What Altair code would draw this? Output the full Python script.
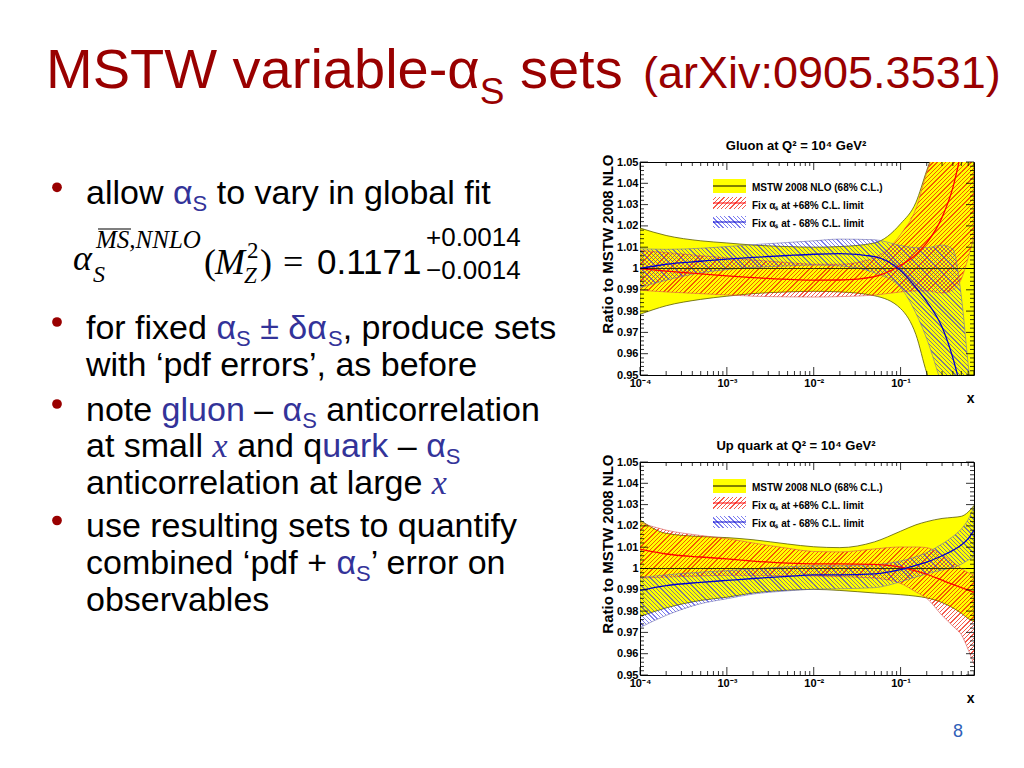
import math
import pandas as pd
import altair as alt

# ---------------------------------------------------------------- slide text
TITLE_RUNS = [("MSTW variable-", "T"), ("α", "T"), ("S", "Ts"), (" sets", "T")]
TITLE_REF = "(arXiv:0905.3531)"
BULLET_LINES = [
    [("allow ", "k"), ("α", "b"), ("S", "s"), (" to vary in global fit", "k")],
    [("for fixed ", "k"), ("α", "b"), ("S", "s"), (" ± δα", "b"), ("S", "s"), (", produce sets", "k")],
    [("with ‘pdf errors’, as before", "k")],
    [("note ", "k"), ("gluon", "b"), (" – ", "k"), ("α", "b"), ("S", "s"), (" anticorrelation", "k")],
    [("at small ", "k"), ("x", "x"), (" and q", "k"), ("uark", "b"), (" – ", "k"), ("α", "b"), ("S", "s")],
    [("anticorrelation at large ", "k"), ("x", "x")],
    [("use resulting sets to quantify", "k")],
    [("combined ‘pdf + ", "k"), ("α", "b"), ("S", "s"), ("’ error on", "k")],
    [("observables", "k")],
]
PAGE_NUMBER = "8"
LEGEND_TEXT = ["MSTW 2008 NLO (68% C.L.)", "Fix αₛ at +68% C.L. limit", "Fix αₛ at - 68% C.L. limit"]
GLUON_TITLE = "Gluon at Q² = 10⁴ GeV²"
QUARK_TITLE = "Up quark at Q² = 10⁴ GeV²"
Y_TITLE = "Ratio to MSTW 2008 NLO"

# ---------------------------------------------------------------- chart data
X = [1e-4, 2e-4, 5e-4, 1e-3, 2e-3, 5e-3, 1e-2, 2e-2, 5e-2, 0.1, 0.15, 0.2, 0.3, 0.4, 0.5, 0.6, 0.7]
CENTRAL = [1.0, 1.0, 1.0, 1.0, 1.0, 1.0, 1.0, 1.0, 1.0, 1.0, 1.0, 1.0, 1.0, 1.0, 1.0, 1.0, 1.0]

# gluon
G_YEL_UP = [1.0190, 1.0155, 1.0130, 1.0120, 1.0110, 1.0103, 1.0100, 1.0103, 1.0120, 1.0210, 1.0310, 1.0460, 1.0650, 1.0700, 1.0700, 1.0700, 1.0700]
G_YEL_LO = [0.9785, 0.9825, 0.9855, 0.9870, 0.9882, 0.9890, 0.9893, 0.9890, 0.9872, 0.9812, 0.9690, 0.9510, 0.9350, 0.9300, 0.9300, 0.9300, 0.9300]
G_RED_C = [1.0000, 0.9988, 0.9975, 0.9965, 0.9957, 0.9949, 0.9945, 0.9946, 0.9962, 1.0015, 1.0065, 1.0120, 1.0240, 1.0380, 1.0550, 1.0700, 1.0800]
G_RED_UP = [1.0085, 1.0075, 1.0060, 1.0050, 1.0040, 1.0028, 1.0020, 1.0020, 1.0050, 1.0160, 1.0280, 1.0450, 1.0650, 1.0800, 1.0900, 1.0950, 1.1000]
G_RED_LO = [0.9898, 0.9890, 0.9882, 0.9876, 0.9870, 0.9867, 0.9866, 0.9868, 0.9875, 0.9890, 0.9895, 0.9895, 0.9885, 0.9900, 0.9950, 1.0050, 1.0150]
G_BLUE_C = [1.0000, 1.0020, 1.0034, 1.0044, 1.0052, 1.0061, 1.0067, 1.0070, 1.0056, 0.9990, 0.9910, 0.9845, 0.9725, 0.9580, 0.9430, 0.9300, 0.9200]
G_BLUE_UP = [1.0093, 1.0090, 1.0095, 1.0103, 1.0112, 1.0122, 1.0130, 1.0138, 1.0135, 1.0108, 1.0098, 1.0098, 1.0110, 1.0090, 0.9870, 0.9550, 0.9300]
G_BLUE_LO = [0.9910, 0.9945, 0.9980, 0.9995, 1.0005, 1.0012, 1.0016, 1.0012, 0.9980, 0.9910, 0.9790, 0.9670, 0.9450, 0.9300, 0.9300, 0.9300, 0.9300]

# up quark
Q_YEL_UP = [1.0228, 1.0165, 1.0150, 1.0145, 1.0135, 1.0115, 1.0102, 1.0098, 1.0125, 1.0175, 1.0205, 1.0220, 1.0235, 1.0240, 1.0245, 1.0265, 1.0296]
Q_YEL_LO = [0.9775, 0.9815, 0.9850, 0.9865, 0.9885, 0.9898, 0.9902, 0.9897, 0.9885, 0.9877, 0.9870, 0.9862, 0.9840, 0.9815, 0.9790, 0.9765, 0.9750]
Q_RED_C = [1.0091, 1.0068, 1.0054, 1.0045, 1.0035, 1.0025, 1.0022, 1.0022, 1.0019, 1.0006, 0.9988, 0.9973, 0.9945, 0.9925, 0.9910, 0.9898, 0.9888]
Q_RED_UP = [1.0215, 1.0180, 1.0155, 1.0140, 1.0120, 1.0095, 1.0080, 1.0078, 1.0092, 1.0101, 1.0101, 1.0098, 1.0065, 1.0030, 1.0000, 0.9980, 0.9970]
Q_RED_LO = [0.9955, 0.9960, 0.9965, 0.9968, 0.9968, 0.9966, 0.9965, 0.9962, 0.9955, 0.9930, 0.9890, 0.9860, 0.9780, 0.9730, 0.9690, 0.9620, 0.9550]
Q_BLUE_C = [0.9897, 0.9920, 0.9935, 0.9944, 0.9953, 0.9963, 0.9970, 0.9970, 0.9975, 0.9995, 1.0015, 1.0030, 1.0060, 1.0085, 1.0110, 1.0140, 1.0180]
Q_BLUE_UP = [0.9958, 0.9970, 0.9983, 0.9990, 0.9998, 1.0008, 1.0013, 1.0013, 1.0018, 1.0035, 1.0055, 1.0075, 1.0115, 1.0150, 1.0185, 1.0230, 1.0290]
Q_BLUE_LO = [0.9723, 0.9780, 0.9835, 0.9858, 0.9880, 0.9895, 0.9903, 0.9905, 0.9910, 0.9938, 0.9960, 0.9975, 0.9993, 1.0005, 1.0020, 1.0040, 1.0055]

# axis ticks
X_MAJOR = [1e-4, 1e-3, 1e-2, 1e-1]
X_MINOR = [k * 10.0 ** e for e in (-4, -3, -2) for k in range(2, 10)] + [0.2, 0.3, 0.4, 0.5, 0.6, 0.7]
Y_MAJOR = [0.95, 0.96, 0.97, 0.98, 0.99, 1.0, 1.01, 1.02, 1.03, 1.04, 1.05]
Y_MINOR = [round(0.95 + 0.002 * i, 4) for i in range(51) if i % 5 != 0]

# ---------------------------------------------------------------- styling
SANS = "Liberation Sans"
SERIF = "Liberation Serif"
BLACK = "#000000"
BLUE_T = "#333399"
RED_T = "#990000"
W, H = 334, 213
XMIN, XMAX = 1e-4, 0.7
YMIN, YMAX = 0.95, 1.05
OX, OY = 8, 8  # page margin: left panel origin on the page

AR = {' ': 278, '‘': 222, '’': 222, ',': 278, '.': 278, ':': 278, '-': 333, '–': 556, '+': 584, '±': 584,
      '(': 333, ')': 333, '%': 889, 'α': 578, 'δ': 556}
for d in "0123456789":
    AR[d] = 556
AR.update(dict(A=667, B=667, C=722, D=722, E=667, F=611, G=778, H=722, I=278, J=500, K=667, L=556, M=833,
               N=722, O=778, P=667, Q=778, R=722, S=667, T=611, U=722, V=667, W=944, X=667, Y=667, Z=611,
               a=556, b=556, c=500, d=556, e=556, f=278, g=556, h=556, i=222, j=222, k=500, l=222, m=833,
               n=556, o=556, p=556, q=556, r=333, s=500, t=278, u=556, v=500, w=722, x=500, y=500, z=500))


def tw(s, size):
    return sum(AR.get(c, 556) for c in s) * size / 1000.0


ONE = pd.DataFrame({"a": [0]})


def text_layer(txt, x, y, size, color, font=SANS, style="normal", weight="normal", align="left"):
    return alt.Chart(pd.DataFrame({"t": [txt]})).mark_text(
        align=align, baseline="alphabetic", font=font, fontSize=size, color=color,
        fontStyle=style, fontWeight=weight
    ).encode(text="t:N", x=alt.value(x - OX), y=alt.value(y - OY))


KINDS = {
    "k": dict(size=34, color=BLACK, font=SANS, style="normal", dy=0),
    "b": dict(size=34, color=BLUE_T, font=SANS, style="normal", dy=0),
    "s": dict(size=22, color=BLUE_T, font=SANS, style="normal", dy=7),
    "x": dict(size=34, color=BLUE_T, font=SERIF, style="italic", dy=0, ital=True),
    "T": dict(size=56, color=RED_T, font=SANS, style="normal", dy=0),
    "Ts": dict(size=37, color=RED_T, font=SANS, style="normal", dy=16),
}


def run_layers(runs, x0, base):
    out = []
    x = x0
    for txt, k in runs:
        sp = KINDS[k]
        size = sp["size"]
        w = 444 * size / 1000.0 * len(txt) if sp.get("ital") else tw(txt, size)
        body = txt.lstrip(" ")
        lead = tw(txt[:len(txt) - len(body)], size)
        if body.strip():
            out.append(text_layer(body.rstrip(" "), x + lead, base + sp["dy"], size, sp["color"],
                                  sp["font"], sp["style"]))
        x += w
    return out


# ---------------------------------------------------------------- left panel (title + bullets)
layers = []
layers += run_layers(TITLE_RUNS, 45, 84)
layers.append(text_layer(TITLE_REF, 642, 84, 45, RED_T))

LINE_BASES = [200, 335, 371.7, 416.7, 453.3, 490, 533.3, 570, 606.7]
for runs, base in zip(BULLET_LINES, LINE_BASES):
    layers += run_layers(runs, 85, base)

for cy in [183.3, 318, 400, 516.5]:
    layers.append(alt.Chart(ONE).mark_circle(size=95, color="#990000", opacity=1)
                  .encode(x=alt.value(56 - OX), y=alt.value(cy - OY)))

# formula  alpha_S^{MS-bar,NNLO}(M_Z^2) = 0.1171 +0.0014 -0.0014
layers.append(text_layer("α", 72, 266, 36, BLACK, SERIF, "italic"))
layers.append(text_layer("S", 92, 278, 24, BLACK, SERIF, "italic"))
layers.append(text_layer("MS,NNLO", 95, 244, 25, BLACK, SERIF, "italic"))
layers.append(alt.Chart(ONE).mark_rule(color=BLACK, strokeWidth=1.2)
              .encode(x=alt.value(97 - OX), x2=alt.value(130 - OX), y=alt.value(225 - OY)))
layers.append(text_layer("(", 203, 270, 36, BLACK, SERIF))
layers.append(text_layer("M", 214, 270, 36, BLACK, SERIF, "italic"))
layers.append(text_layer("2", 246, 254, 23, BLACK, SERIF))
layers.append(text_layer("Z", 243, 279, 23, BLACK, SERIF, "italic"))
layers.append(text_layer(")", 259, 270, 36, BLACK, SERIF))
layers.append(text_layer("=", 282, 270, 36, BLACK, SERIF))
layers.append(text_layer("0.1171", 316, 270, 35, BLACK, SANS))
layers.append(text_layer("+0.0014", 425, 242, 26, BLACK, SANS))
layers.append(text_layer("\u22120.0014", 425, 275, 26, BLACK, SANS))

layers.append(text_layer(PAGE_NUMBER, 957, 733, 18, "#3060B8", SANS, align="center"))

text_panel = alt.layer(*layers).properties(width=611, height=740)


# ---------------------------------------------------------------- hatch pattern via striped gradient
def px(x):
    return (math.log10(x) - math.log10(XMIN)) / (math.log10(XMAX) - math.log10(XMIN)) * W


def py(y):
    return (YMAX - y) / (YMAX - YMIN) * H


def hatch(bx0, by0, bw, bh, color, direction, d=3.0, lw=0.9):
    """Stripes at 45 degrees in plot pixels, phase-locked to the plot so pieces join up."""
    bw = max(bw, 0.5)
    bh = max(bh, 0.5)
    r = bh / bw
    s = (1 + r) / (1 + r * r)
    S = bw + bh
    P = d * math.sqrt(2)
    th = lw * math.sqrt(2) / S
    if direction == "/":
        c0 = bx0 + by0
        x1, y1, x2, y2 = 0, 0, s, s * r
    else:
        c0 = bx0 - by0 - bh
        x1, y1, x2, y2 = 0, 1, s, 1 - s * r
    clear = "rgba(255,255,255,0)"
    stops = []
    k = math.floor(c0 / P) - 1
    while True:
        ta = (k * P - c0) / S
        if ta > 1:
            break
        tb = ta + th
        k += 1
        if tb <= 0:
            continue
        a = round(max(0.0, ta), 6)
        b = round(min(1.0, tb), 6)
        if stops and a < stops[-1].offset:
            a = stops[-1].offset
        stops += [alt.GradientStop(offset=a, color=clear), alt.GradientStop(offset=a, color=color),
                  alt.GradientStop(offset=b, color=color), alt.GradientStop(offset=b, color=clear)]
    if not stops:
        stops = [alt.GradientStop(offset=0, color=clear), alt.GradientStop(offset=1, color=clear)]
    return alt.LinearGradient(gradient="linear", stops=stops, x1=x1, y1=y1, x2=x2, y2=y2)


SEGMENTS = [(0, 2), (2, 4), (4, 6), (6, 8), (8, 10), (10, 12), (12, 14), (14, 16)]

XLAB = ("datum.value < 5e-4 ? '10⁻⁴' : datum.value < 5e-3 ? '10⁻³' : "
        "datum.value < 5e-2 ? '10⁻²' : '10⁻¹'")
YLAB = "abs(datum.value - 1) < 1e-6 ? '1' : format(datum.value, '.2f')"

RED_HATCH = "rgba(240,20,0,0.7)"
BLUE_HATCH = "rgba(40,40,230,0.6)"


def make_panel(title, yu, yl, rc, ru, rl, bc, bu, bl):
    df = pd.DataFrame({"x": X, "yu": yu, "yl": yl, "rc": rc, "ru": ru, "rl": rl,
                       "bc": bc, "bu": bu, "bl": bl, "c": CENTRAL})
    xs = alt.Scale(type="log", domain=[XMIN, XMAX], nice=False)
    ys = alt.Scale(domain=[YMIN, YMAX], nice=False, zero=False)
    xaxis = alt.Axis(values=X_MAJOR, labelExpr=XLAB, ticks=False, domain=False, grid=False,
                     labelFont=SANS, labelFontSize=11, labelFontWeight="bold", labelColor=BLACK,
                     labelPadding=2, labelFlush=False, labelOverlap=False,
                     title="x", titleFont=SANS, titleFontSize=14, titleFontWeight="bold", titleColor=BLACK,
                     titleX=W, titleY=27, titleAlign="right", titleBaseline="alphabetic", titleAngle=0)
    yaxis = alt.Axis(values=Y_MAJOR, labelExpr=YLAB, ticks=False, domain=False, grid=False,
                     labelFont=SANS, labelFontSize=11, labelFontWeight="bold", labelColor=BLACK,
                     labelPadding=2, labelFlush=False, labelOverlap=False,
                     title=Y_TITLE, titleFont=SANS, titleFontSize=15, titleFontWeight="bold", titleColor=BLACK,
                     titleX=-33, titleY=-8, titleAngle=270, titleAlign="right", titleBaseline="middle")

    def X_(f):
        return alt.X(f, type="quantitative", scale=xs, axis=xaxis)

    def Y_(f):
        return alt.Y(f, type="quantitative", scale=ys, axis=yaxis)

    base = alt.Chart(df)
    L = []
    L.append(base.mark_area(fill="#FFFF00", stroke="#5A5A00", strokeWidth=0.8, interpolate="monotone", clip=True)
             .encode(x=X_("x"), y=Y_("yu"), y2="yl:Q"))

    # hatched bands, split into short pieces so each gradient stays fine-grained
    for up, lo, col, dirn, edge in [(ru, rl, RED_HATCH, "/", "#D85050"), (bu, bl, BLUE_HATCH, "\\", "#6A6AB0")]:
        for i0, i1 in SEGMENTS:
            seg = pd.DataFrame({"x": X[i0:i1 + 1], "u": up[i0:i1 + 1], "l": lo[i0:i1 + 1]})
            bx0 = px(X[i0])
            bw = px(X[i1]) - bx0
            by0 = py(max(up[i0:i1 + 1]))
            bh = py(min(lo[i0:i1 + 1])) - by0
            L.append(alt.Chart(seg).mark_area(fill=hatch(bx0, by0, bw, bh, col, dirn),
                                              interpolate="monotone", clip=True)
                     .encode(x=X_("x"), y=Y_("u"), y2="l:Q"))
        for col_name in ("ru", "rl") if dirn == "/" else ("bu", "bl"):
            L.append(base.mark_line(color=edge, strokeWidth=0.6, interpolate="monotone", clip=True)
                     .encode(x=X_("x"), y=Y_(col_name)))

    L.append(base.mark_line(color="#333300", strokeWidth=1, clip=True).encode(x=X_("x"), y=Y_("c")))
    L.append(base.mark_line(color="#FF0000", strokeWidth=1.3, interpolate="monotone", clip=True)
             .encode(x=X_("x"), y=Y_("rc")))
    L.append(base.mark_line(color="#0000CC", strokeWidth=1.3, interpolate="monotone", clip=True)
             .encode(x=X_("x"), y=Y_("bc")))
    # inward ticks on all four sides
    for vals, ln in [(X_MAJOR, 8), (X_MINOR, 4)]:
        t = alt.Chart(pd.DataFrame({"t": vals}))
        L.append(t.mark_rule(color=BLACK, strokeWidth=0.8)
                 .encode(x=X_("t"), y=alt.value(H), y2=alt.value(H - ln)))
        L.append(t.mark_rule(color=BLACK, strokeWidth=0.8)
                 .encode(x=X_("t"), y=alt.value(0), y2=alt.value(ln)))
    for vals, ln in [(Y_MAJOR, 8), (Y_MINOR, 4)]:
        t = alt.Chart(pd.DataFrame({"t": vals}))
        L.append(t.mark_rule(color=BLACK, strokeWidth=0.8)
                 .encode(y=Y_("t"), x=alt.value(0), x2=alt.value(ln)))
        L.append(t.mark_rule(color=BLACK, strokeWidth=0.8)
                 .encode(y=Y_("t"), x=alt.value(W), x2=alt.value(W - ln)))
    # legend
    sw_x0, sw_x1 = 73, 106
    L.append(alt.Chart(ONE).mark_rect(fill="#FFFF00")
             .encode(x=alt.value(sw_x0), x2=alt.value(sw_x1), y=alt.value(17), y2=alt.value(31)))
    L.append(alt.Chart(ONE).mark_rule(color=BLACK, strokeWidth=1)
             .encode(x=alt.value(sw_x0), x2=alt.value(sw_x1), y=alt.value(24)))
    L.append(alt.Chart(ONE).mark_rect(fill=hatch(sw_x0, 35, 33, 12, RED_HATCH, "/"))
             .encode(x=alt.value(sw_x0), x2=alt.value(sw_x1), y=alt.value(35), y2=alt.value(47)))
    L.append(alt.Chart(ONE).mark_rule(color="#FF0000", strokeWidth=1.2)
             .encode(x=alt.value(sw_x0), x2=alt.value(sw_x1), y=alt.value(41)))
    L.append(alt.Chart(ONE).mark_rect(fill=hatch(sw_x0, 54, 33, 12, BLUE_HATCH, "\\"))
             .encode(x=alt.value(sw_x0), x2=alt.value(sw_x1), y=alt.value(54), y2=alt.value(66)))
    L.append(alt.Chart(ONE).mark_rule(color="#0000CC", strokeWidth=1.2)
             .encode(x=alt.value(sw_x0), x2=alt.value(sw_x1), y=alt.value(60)))
    for txt, yb in zip(LEGEND_TEXT, [28.5, 46.5, 65]):
        L.append(alt.Chart(pd.DataFrame({"t": [txt]}))
                 .mark_text(align="left", baseline="alphabetic", font=SANS, fontSize=10, fontWeight="bold",
                            color=BLACK)
                 .encode(text="t:N", x=alt.value(112), y=alt.value(yb)))
    return alt.layer(*L).properties(
        width=W, height=H,
        title=alt.TitleParams(text=title, font=SANS, fontSize=13, fontWeight="bold", color=BLACK,
                              anchor="middle", frame="group", baseline="alphabetic", offset=2, dx=-11, dy=11),
        view=alt.ViewBackground(stroke=BLACK, strokeWidth=1),
    )


gluon = make_panel(GLUON_TITLE, G_YEL_UP, G_YEL_LO, G_RED_C, G_RED_UP, G_RED_LO, G_BLUE_C, G_BLUE_UP, G_BLUE_LO)
quark = make_panel(QUARK_TITLE, Q_YEL_UP, Q_YEL_LO, Q_RED_C, Q_RED_UP, Q_RED_LO, Q_BLUE_C, Q_BLUE_UP, Q_BLUE_LO)

spacer = alt.Chart(ONE).mark_point(opacity=0).encode(x=alt.value(0), y=alt.value(0)).properties(width=W, height=63)

right = alt.vconcat(spacer, gluon, quark, spacing=87, bounds="flush")

chart = alt.hconcat(text_panel, right, spacing=20, bounds="flush", padding=0, background="white") \
    .configure_view(stroke="transparent")

chart.save("out.html", embed_options={"renderer": "svg", "actions": False})
